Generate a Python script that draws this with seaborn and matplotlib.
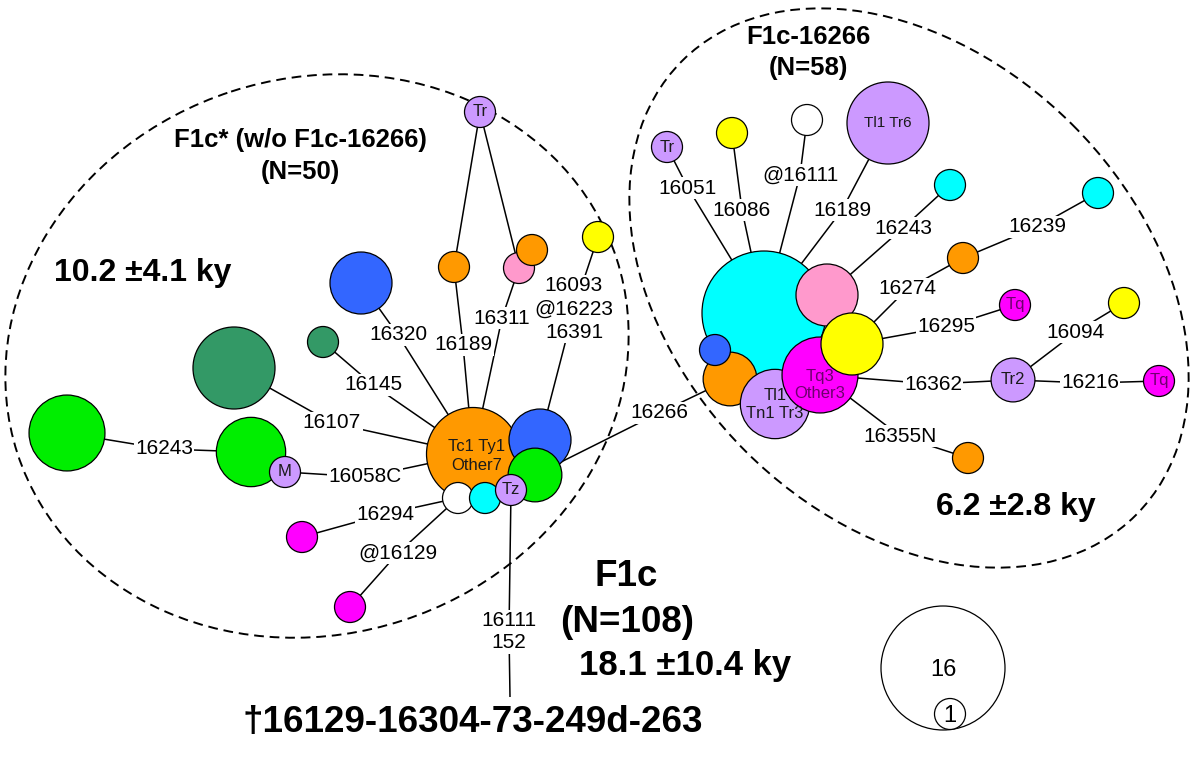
import matplotlib
matplotlib.use("Agg")
import matplotlib.pyplot as plt
from matplotlib.patches import Ellipse
import numpy as np
import pandas as pd
import seaborn as sns

# haplotype nodes, layout in image pixels (y grows downwards); node_n = number of samples
node_x = [480, 454, 519, 532, 598, 361, 323, 234, 67, 251, 285, 302, 350, 473, 540, 535, 458, 485, 511,
          667, 732, 807, 888, 950, 1098, 963, 1015, 1124, 1013, 1159, 968, 764, 730, 715, 775, 820, 827, 852,
          510]
node_y = [112, 267, 268, 250, 237, 283, 342, 368, 433, 452, 472, 537, 607, 454, 440, 475, 498, 498, 490,
          147, 133, 120, 123, 185, 193, 258, 305, 303, 380, 381, 458, 313, 379, 350, 404, 375, 295, 344,
          697]
node_n = [1, 1, 1, 1, 1, 4, 1, 7, 6, 5, 1, 1, 1, 9, 4, 3, 1, 1, 1,
          1, 1, 1, 7, 1, 1, 1, 1, 1, 2, 1, 1, 16, 3, 1, 5, 6, 4, 4,
          0]
node_grp = ['lav', 'orange', 'pink', 'orange', 'yellow', 'blue', 'dkgreen', 'dkgreen', 'green', 'green',
            'lav', 'magenta', 'magenta', 'orange', 'blue', 'green', 'white', 'cyan', 'lav',
            'lav', 'yellow', 'white', 'lav', 'cyan', 'cyan', 'orange', 'magenta', 'yellow', 'lav',
            'magenta', 'orange', 'cyan', 'orange', 'blue', 'lav', 'magenta', 'pink', 'yellow',
            'none']
node_txt = ['Tr', '', '', '', '', '', '', '', '', '', 'M', '', '', 'Tc1 Ty1\nOther7', '', '', '', '', 'Tz',
            'Tr', '', '', 'Tl1 Tr6', '', '', '', 'Tq', '', 'Tr2', 'Tq', '', '', '', '', 'Tl1\nTn1 Tr3',
            'Tq3\nOther3', '', '', '']

# mutations between haplotypes
edge_src = [0, 0, 1, 2, 4, 5, 6, 7, 8, 10, 11, 12, 15, 18,
            19, 20, 21, 22, 23, 24, 25, 26, 28, 27, 28, 30]
edge_dst = [1, 2, 13, 13, 14, 13, 13, 13, 9, 13, 16, 16, 32, 38,
            31, 31, 31, 31, 36, 25, 37, 37, 35, 28, 29, 35]
edge_lbl = ['', '', '16189', '16311', '16093\n@16223\n16391', '16320', '16145', '16107', '16243',
            '16058C', '16294', '@16129', '16266', '16111\n152',
            '16051', '16086', '@16111', '16189', '16243', '16239', '16274', '16295', '16362', '16094',
            '16216', '16355N']
lbl_x = [np.nan, np.nan, 463, 502, 574, 398, 373, 332, 164, 365, 385, 398, 659, 509,
         688, 742, 800, 842, 903, 1037, 907, 946, 933, 1076, 1090, 900]
lbl_y = [np.nan, np.nan, 345, 318, 309, 335, 385, 423, 449, 477, 514, 553, 413, 632,
         188, 210, 175, 210, 228, 227, 289, 327, 384, 332, 383, 436]

# cluster annotations
note_txt = ['F1c* (w/o F1c-16266)', '(N=50)', '10.2 \u00b14.1 ky', 'F1c-16266', '(N=58)',
            '6.2 \u00b12.8 ky', 'F1c', '(N=108)', '18.1 \u00b110.4 ky',
            '\u202016129-16304-73-249d-263']
note_x = [300, 300, 54, 808, 808, 936, 626, 627, 685, 473]
note_y = [140, 172, 273, 37, 68, 507, 577, 623, 666, 723]

# size legend
legend_n = [16, 1]
legend_x = [943, 950]
legend_y = [668, 714]

palette = {'orange': '#ff9900', 'blue': '#3366ff', 'green': '#00ee00', 'dkgreen': '#339966',
           'pink': '#ff99cc', 'yellow': '#ffff00', 'cyan': '#00ffff', 'magenta': '#ff00ff',
           'lav': '#cc99ff', 'white': '#ffffff'}

sns.set_style('white')
plt.rcParams['font.family'] = ['Liberation Sans', 'DejaVu Sans']
plt.rcParams['text.color'] = 'black'

DPI = 100
R1 = 15.5  # radius in px of a single-sample node


def marker_area(n):
    r = R1 * np.sqrt(np.asarray(n, dtype=float))
    return (2 * r * 72 / DPI) ** 2


fig = plt.figure(figsize=(12, 7.67), dpi=DPI)
ax = fig.add_axes([0, 0, 1, 1])

# dashed cluster outlines
ax.add_patch(Ellipse((317, 356), 630, 556, angle=-18, fill=False, lw=1.4,
                     ls=(0, (5, 3)), color='black', zorder=1.5))
ax.add_patch(Ellipse((909, 288), 642, 462, angle=45, fill=False, lw=1.4,
                     ls=(0, (5, 3)), color='black', zorder=1.5))

# edges, passing through their label anchor
for s, d, lab, lx, ly in zip(edge_src, edge_dst, edge_lbl, lbl_x, lbl_y):
    if lab:
        xs = [node_x[s], lx, node_x[d]]
        ys = [node_y[s], ly, node_y[d]]
        ls = 1.3 if lab.count('\n') == 2 else 1.2
        ax.text(lx, ly, lab, ha='center', va='center', fontsize=15, linespacing=ls, zorder=2,
                bbox=dict(facecolor='white', edgecolor='none', pad=1))
    else:
        xs = [node_x[s], node_x[d]]
        ys = [node_y[s], node_y[d]]
    ax.plot(xs, ys, color='black', lw=1.1, zorder=1, solid_capstyle='butt')

nodes = pd.DataFrame({'x': node_x, 'y': node_y, 'n': node_n, 'grp': node_grp, 'txt': node_txt})
drawn = nodes[nodes['n'] > 0]
sns.scatterplot(data=drawn, x='x', y='y', hue='grp', palette=palette, s=marker_area(drawn['n']),
                edgecolor='black', linewidth=0.9, legend=False, ax=ax, zorder=3)

txt_shift = {13: (4, 2), 35: (0, 10)}
for i, row in drawn.iterrows():
    if not row['txt']:
        continue
    dx, dy = txt_shift.get(i, (0, 0))
    col = '#6e006e' if row['grp'] == 'magenta' else '#1a1a1a'
    fs = 11 if row['txt'] == 'Tl1 Tr6' else 12
    ax.text(row['x'] + dx, row['y'] + dy, row['txt'], ha='center', va='center', fontsize=fs,
            color=col, linespacing=1.25, zorder=4)

# size legend
sns.scatterplot(x=legend_x, y=legend_y, s=marker_area(legend_n), color='white',
                edgecolor='black', linewidth=0.9, legend=False, ax=ax, zorder=3)
for n, x, y in zip(legend_n, legend_x, legend_y):
    ax.text(x, y + 2, str(n), ha='center', va='center', fontsize=17, zorder=4)

note_size = [18.5, 18.5, 23, 18.5, 18.5, 23, 26.5, 26.5, 25, 26.5]
note_ha = ['center', 'center', 'left', 'center', 'center', 'left', 'center', 'center', 'center', 'center']
for t, x, y, fs, ha in zip(note_txt, note_x, note_y, note_size, note_ha):
    ax.text(x, y, t, ha=ha, va='center', fontsize=fs, fontweight='bold', zorder=4)

ax.set_xlim(0, 1200)
ax.set_ylim(767, 0)
ax.axis('off')
fig.savefig('out.png', dpi=DPI)
